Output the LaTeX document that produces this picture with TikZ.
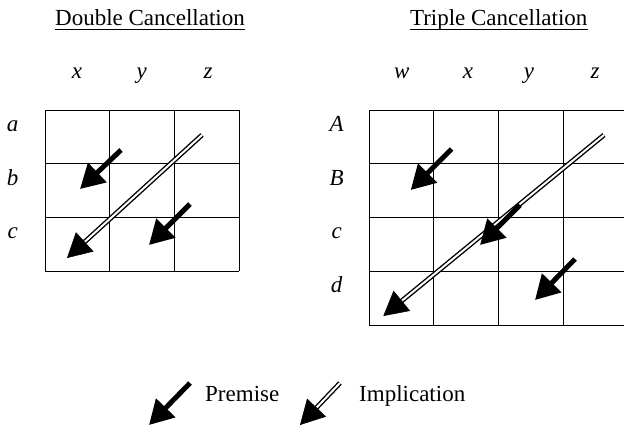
\documentclass[tikz,border=0pt]{standalone}
\usepackage{fontspec}
\setmainfont{Liberation Serif}
\usetikzlibrary{arrows.meta,calc}
\tikzset{
  lbl/.style={font=\fontsize{23}{27}\selectfont, inner sep=0pt, anchor=base},
  var/.style={inner sep=0pt, anchor=base, font=\fontsize{23}{27}\selectfont\itshape},
  gridline/.style={line width=1pt},
  premise/.style={line width=5pt, -{Triangle[length=24pt,width=26pt]}},
  implshaft/.style={double, double distance=2pt, line width=1.4pt},
  implhead/.style={line width=0.5pt, -{Triangle[length=24pt,width=26pt]}},
}
\newcommand\implarrow[2]{%
  \draw[implshaft] (#1) -- ($(#2)!12pt!(#1)$);
  \draw[implhead] ($(#2)!24.5pt!(#1)$) -- (#2);}
\begin{document}
\begin{tikzpicture}[x=1pt,y=-1pt]
\useasboundingbox (0,0) rectangle (624,424);
\clip (0,0) rectangle (624,424);
% titles
\node[lbl] (dtitle) at (150,25.5) {Double Cancellation};
\draw[line width=1pt] ([yshift=-4pt]dtitle.base west) -- ([yshift=-4pt]dtitle.base east);
\node[lbl] (ttitle) at (498.7,25.5) {Triple Cancellation};
\draw[line width=1pt] ([yshift=-4pt]ttitle.base west) -- ([yshift=-4pt]ttitle.base east);
% left column labels
\node[var] (lx) at (77,78) {x};
\node[var] (ly) at (141.7,78) {y};
\node[var] (lz) at (208,78) {z};
% left row labels
\node[var] (la) at (12.7,131.5) {a};
\node[var] (lb) at (12.7,185) {b};
\node[var] (lc) at (12.7,238) {c};
% right column labels
\node[var] (rw) at (401.7,78) {w};
\node[var] (rx) at (468,78) {x};
\node[var] (ry) at (529,78) {y};
\node[var] (rz) at (595,78) {z};
% right row labels
\node[var] (rA) at (336.7,131.5) {A};
\node[var] (rB) at (336.7,185) {B};
\node[var] (rc) at (336.7,238) {c};
\node[var] (rd) at (336.7,292) {d};
% left grid
\foreach \i in {0,...,3} \draw[gridline] (45+\i*64.67,110) -- (45+\i*64.67,271);
\foreach \j in {0,...,3} \draw[gridline] (45,110+\j*53.67) -- (239,110+\j*53.67);
% right grid
\foreach \i in {0,...,4} \draw[gridline] (369.3+\i*64.67,110) -- (369.3+\i*64.67,325.2);
\foreach \j in {0,...,4} \draw[gridline] (369.3,110+\j*53.8) -- (628,110+\j*53.8);
% left arrows
\coordinate (lp1t) at (121,150); \coordinate (lp1h) at (80,189);
\coordinate (lp2t) at (190,204); \coordinate (lp2h) at (149,245);
\coordinate (lit) at (202,135);  \coordinate (lih) at (67,258);
\draw[premise] (lp1t) -- (lp1h);
\draw[premise] (lp2t) -- (lp2h);
\implarrow{lit}{lih}
% right arrows
\coordinate (rp1t) at (451.7,149); \coordinate (rp1h) at (410.7,190);
\coordinate (rp2t) at (520,205);   \coordinate (rp2h) at (480,245);
\coordinate (rp3t) at (575,259);   \coordinate (rp3h) at (535,300);
\coordinate (rit) at (604,135);    \coordinate (rih) at (383.3,316);
\implarrow{rit}{rih}
\draw[premise] (rp1t) -- (rp1h);
\draw[premise] (rp2t) -- (rp2h);
\draw[premise] (rp3t) -- (rp3h);
% legend
\coordinate (gpt) at (190,383); \coordinate (gph) at (149,425);
\draw[premise] (gpt) -- (gph);
\node[lbl, anchor=base west] (gptext) at (205,401) {Premise};
\coordinate (git) at (340,383); \coordinate (gih) at (300,425);
\implarrow{git}{gih}
\node[lbl, anchor=base west] (gitext) at (359,401) {Implication};
\end{tikzpicture}
\end{document}
